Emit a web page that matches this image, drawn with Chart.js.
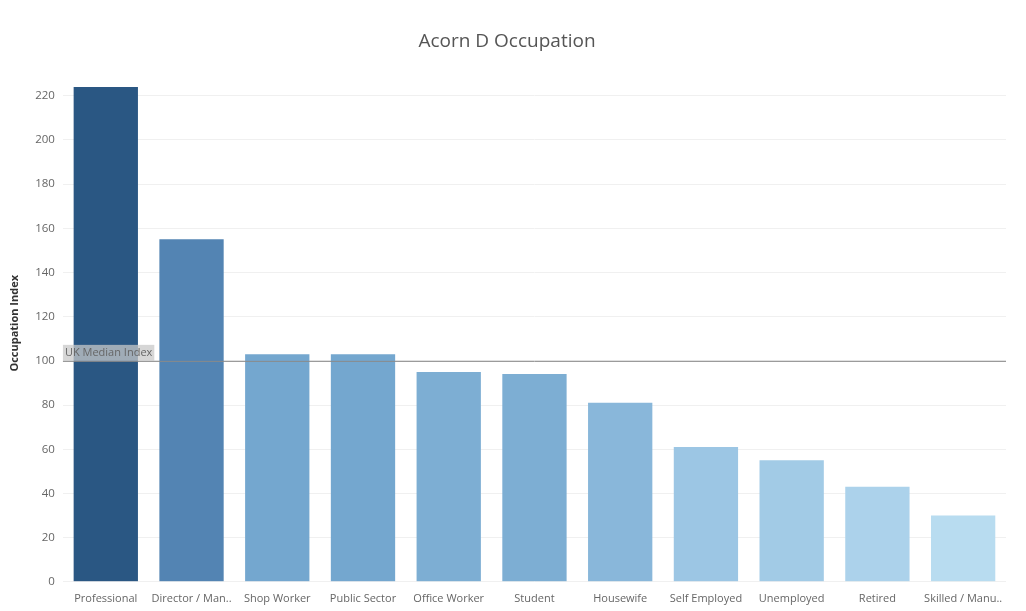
<!DOCTYPE html>
<html><head><meta charset="utf-8">
<script src="https://cdn.jsdelivr.net/npm/chart.js@4"></script>
<style>html,body{margin:0;padding:0;background:#fff}#w{width:1026px;height:611px}</style>
</head><body><div id="w"><canvas id="c"></canvas></div>
<script>
const categories = ["Professional","Director / Man..","Shop Worker","Public Sector","Office Worker","Student","Housewife","Self Employed","Unemployed","Retired","Skilled / Manu.."];
const values = [224,155,103,103,95,94,81,61,55,43,30];
const colors = ["#2a5783","#5384b3","#74a7cf","#74a7cf","#7daed3","#7daed3","#89b7da","#9cc6e4","#a2cbe6","#acd2eb","#b8dcf0"];
const medianValue = 100;
const medianLabel = "UK Median Index";

const medianPlugin = {
  id:'median',
  afterDatasetsDraw(chart){
    const {ctx, chartArea:a, scales:{y}} = chart;
    const py = y.getPixelForValue(medianValue);
    ctx.save();
    ctx.strokeStyle='#8a8a8a'; ctx.lineWidth=1;
    ctx.beginPath(); ctx.moveTo(a.left, py+0.5); ctx.lineTo(a.right, py+0.5); ctx.stroke();
    ctx.font='11px "Open Sans", sans-serif';
    const tw = ctx.measureText(medianLabel).width;
    ctx.fillStyle='rgba(200,200,200,0.75)';
    ctx.fillRect(a.left, py-16, tw+4, 16);
    ctx.fillStyle='#666'; ctx.textBaseline='middle';
    ctx.fillText(medianLabel, a.left+2, py-8);
    ctx.restore();
  }
};

new Chart(document.getElementById('c'), {
  type:'bar',
  data:{labels:categories, datasets:[{data:values, backgroundColor:colors, categoryPercentage:1, barPercentage:0.75}]},
  options:{
    responsive:true, maintainAspectRatio:false, animation:false,
    layout:{padding:{top:16,right:20,left:8,bottom:4}},
    plugins:{legend:{display:false}, tooltip:{enabled:false},
      title:{display:true, text:'Acorn D Occupation', color:'#555', font:{family:'"Open Sans", sans-serif', size:19, weight:'normal'}, padding:{top:14,bottom:12}}},
    scales:{
      x:{grid:{display:false}, border:{display:false}, ticks:{color:'#666', font:{family:'"Open Sans", sans-serif', size:11}, maxRotation:0, autoSkip:false, padding:2}},
      y:{min:0, max:234, afterBuildTicks(s){s.ticks=[];for(let v=0;v<=220;v+=20)s.ticks.push({value:v});},
        grid:{color:'#f0f0f0', drawTicks:false}, border:{display:false},
        ticks:{color:'#666', font:{family:'"Open Sans", sans-serif', size:11.5}, padding:8},
        title:{display:true, text:'Occupation Index', color:'#333', font:{family:'"Open Sans", sans-serif', size:11, weight:'bold'}, padding:{top:0,bottom:6}}}
    }
  },
  plugins:[medianPlugin]
});
</script></body></html>
